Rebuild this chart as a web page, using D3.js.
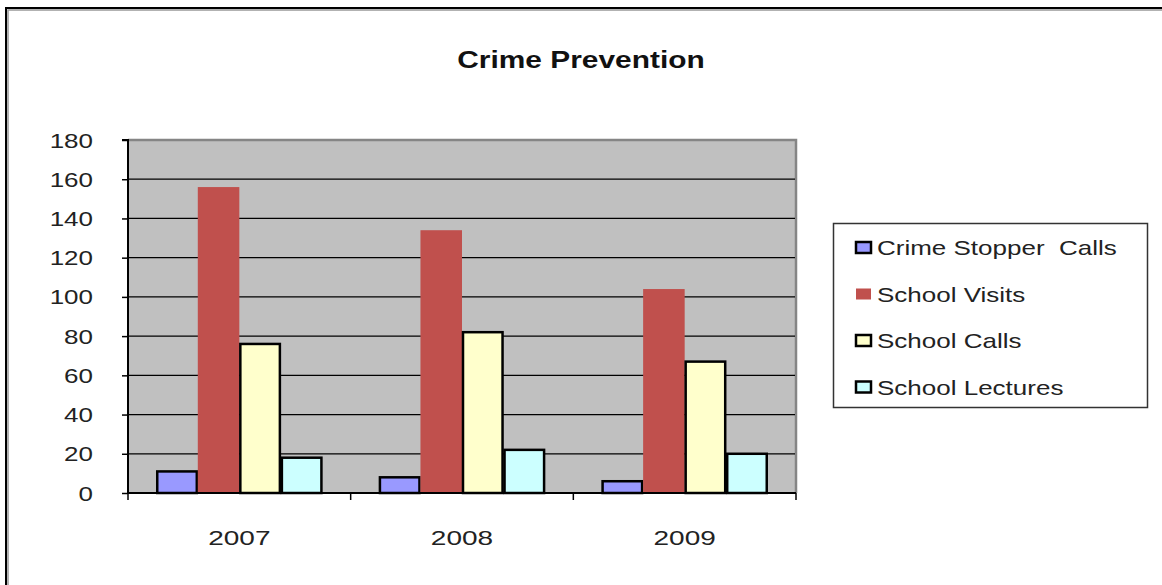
<!DOCTYPE html>
<html>
<head>
<meta charset="utf-8">
<script src="https://cdn.jsdelivr.net/npm/d3@7"></script>
<style>
  html, body { margin: 0; padding: 0; background: #fff; }
  svg { display: block; font-family: "Liberation Sans", Arial, sans-serif; }
</style>
</head>
<body>
<div id="chart"></div>
<script>
const years = ['2007', '2008', '2009'];
const seriesNames = ['Crime Stopper  Calls', 'School Visits', 'School Calls', 'School Lectures'];
const crimeStopperCalls = [11, 8, 6];
const schoolVisits = [156, 134, 104];
const schoolCalls = [76, 82, 67];
const schoolLectures = [18, 22, 20];
const yTicks = [0, 20, 40, 60, 80, 100, 120, 140, 160, 180];

const seriesValues = [crimeStopperCalls, schoolVisits, schoolCalls, schoolLectures];
const fills = ['#9999FF', '#C0504D', '#FFFFCC', '#CCFFFF'];
const outlined = [true, false, true, true];

const W = 1162, H = 585;
const plot = { left: 128, right: 796, top: 140, bottom: 493 };
const stretch = 1.3; // the reference text is drawn wide

const svg = d3.select('#chart').append('svg').attr('width', W).attr('height', H);

// outer frame (only top and left edges are visible)
svg.append('path').attr('d', `M6,${H + 5}V8H${W + 5}`)
  .attr('fill', 'none').attr('stroke', '#000').attr('stroke-width', 2);
svg.append('path').attr('d', `M8,${H + 5}V10H${W + 5}`)
  .attr('fill', 'none').attr('stroke', '#999').attr('stroke-width', 1.5);

const x = d3.scaleBand().domain(years).range([plot.left, plot.right]);
const xs = d3.scaleBand().domain(d3.range(seriesNames.length))
  .range([0, x.bandwidth()]).paddingOuter(0.68);
const y = d3.scaleLinear().domain([0, 180]).range([plot.bottom, plot.top]);

// plot background
svg.append('rect')
  .attr('x', plot.left).attr('y', plot.top)
  .attr('width', plot.right - plot.left).attr('height', plot.bottom - plot.top)
  .attr('fill', '#C0C0C0');
svg.append('path')
  .attr('d', `M${plot.left},${plot.top}H${plot.right}V${plot.bottom}`)
  .attr('fill', 'none').attr('stroke', '#858585').attr('stroke-width', 2.5);

// gridlines
svg.append('g').selectAll('line').data(yTicks.filter(d => d > 0 && d < 180)).join('line')
  .attr('x1', plot.left).attr('x2', plot.right - 1)
  .attr('y1', d => y(d)).attr('y2', d => y(d))
  .attr('stroke', '#000').attr('stroke-width', 1.3);

// bars
const groups = svg.append('g').selectAll('g').data(years).join('g')
  .attr('transform', d => `translate(${x(d)},0)`);

groups.selectAll('rect')
  .data((yr, i) => seriesValues.map((vals, s) => ({ s, v: vals[i] })))
  .join('rect')
  .attr('x', d => xs(d.s) + (outlined[d.s] ? 1 : 0))
  .attr('width', d => xs.bandwidth() - (outlined[d.s] ? 2 : 0))
  .attr('y', d => y(d.v))
  .attr('height', d => y(0) - y(d.v))
  .attr('fill', d => fills[d.s])
  .attr('stroke', d => outlined[d.s] ? '#000' : 'none')
  .attr('stroke-width', 2.5);

// y axis
const yAxis = svg.append('g').attr('transform', `translate(${plot.left},0)`)
  .call(d3.axisLeft(y).tickValues(yTicks).tickSize(6).tickPadding(0).tickFormat(d3.format('d')));
yAxis.select('.domain').attr('stroke', '#000').attr('stroke-width', 2)
  .attr('d', `M-6,${plot.top}H0V${plot.bottom}`);
yAxis.selectAll('.tick line').attr('stroke', '#000').attr('stroke-width', 1.5);
yAxis.selectAll('.tick text')
  .attr('x', null).attr('dy', null)
  .attr('transform', `translate(-35,7) scale(${stretch},1)`)
  .attr('text-anchor', 'end')
  .attr('font-size', 20).attr('fill', '#222')
  .attr('font-family', '"Liberation Sans", Arial, sans-serif');

// x axis
const xAxis = svg.append('g').attr('transform', `translate(0,${plot.bottom})`);
xAxis.append('line').attr('x1', plot.left).attr('x2', plot.right)
  .attr('stroke', '#000').attr('stroke-width', 2);
xAxis.selectAll('.sep').data(years.concat(['end'])).join('line')
  .attr('class', 'sep')
  .attr('x1', (d, i) => i < years.length ? x(d) : plot.right)
  .attr('x2', (d, i) => i < years.length ? x(d) : plot.right)
  .attr('y1', 0).attr('y2', 7)
  .attr('stroke', '#000').attr('stroke-width', 1.5);
xAxis.selectAll('.lbl').data(years).join('text')
  .attr('class', 'lbl')
  .attr('transform', d => `translate(${x(d) + x.bandwidth() / 2},52) scale(1.4,1)`)
  .attr('text-anchor', 'middle')
  .attr('font-size', 20).attr('fill', '#222')
  .text(d => d);

// title
svg.append('text')
  .attr('transform', `translate(581,68) scale(${stretch},1)`)
  .attr('text-anchor', 'middle')
  .attr('font-size', 23).attr('font-weight', 'bold').attr('fill', '#111')
  .text('Crime Prevention');

// legend
const legend = svg.append('g');
legend.append('rect')
  .attr('x', 833.5).attr('y', 223.5).attr('width', 314).attr('height', 184)
  .attr('fill', '#fff').attr('stroke', '#333').attr('stroke-width', 1.5);
const item = legend.selectAll('.item').data(seriesNames).join('g')
  .attr('class', 'item')
  .attr('transform', (d, i) => `translate(0,${255 + i * 46.5})`);
item.append('rect')
  .attr('x', (d, i) => outlined[i] ? 856 : 856)
  .attr('y', -13)
  .attr('width', (d, i) => outlined[i] ? 15 : 15)
  .attr('height', 11)
  .attr('fill', (d, i) => fills[i])
  .attr('stroke', (d, i) => outlined[i] ? '#000' : 'none')
  .attr('stroke-width', 2.5);
item.append('text')
  .attr('transform', `translate(877,0) scale(${stretch},1)`)
  .attr('font-size', 20).attr('fill', '#222')
  .attr('xml:space', 'preserve')
  .style('white-space', 'pre')
  .text(d => d);
</script>
</body>
</html>
